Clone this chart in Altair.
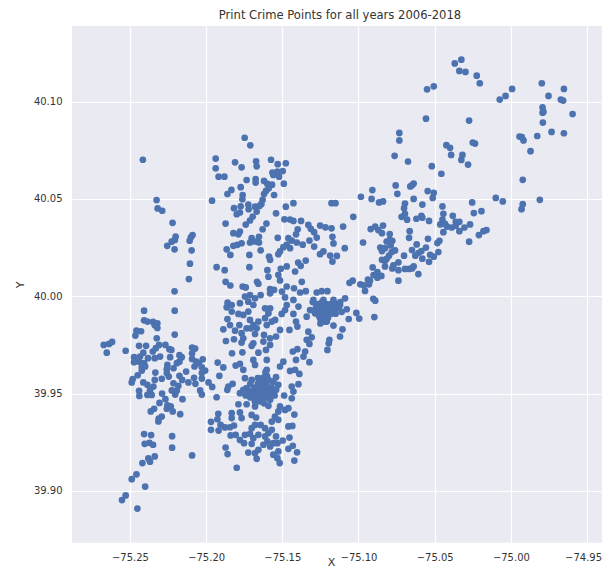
import altair as alt
import pandas as pd

# (longitude, latitude) pairs, grouped by area
southwest = [
(-75.2206,39.9926),(-75.2407,39.9926),(-75.2407,39.9876),(-75.2385,39.987),(-75.2348,39.9868),(-75.232,39.9861),(-75.2337,39.9851),(-75.232,39.9837),
(-75.2457,39.9823),(-75.2427,39.982),(-75.2464,39.9798),(-75.2206,39.9803),(-75.2324,39.9784),(-75.2617,39.9765),(-75.2637,39.9755),(-75.2672,39.975),
(-75.2652,39.971),(-75.2528,39.972),(-75.244,39.9745),(-75.2394,39.9745),(-75.2309,39.975),(-75.2267,39.975),(-75.233,39.9733),(-75.2241,39.9728),
(-75.235,39.9716),(-75.2228,39.9724),(-75.2412,39.971),(-75.2092,39.9736),(-75.2072,39.9731),(-75.2473,39.9687),(-75.2433,39.969),(-75.2381,39.9682),
(-75.2337,39.9682),(-75.2302,39.969),(-75.2236,39.9687),(-75.2175,39.9697),(-75.216,39.9687),(-75.2092,39.9707),(-75.2092,39.9678),(-75.2022,39.9676),
(-75.2473,39.9661),(-75.244,39.9664),(-75.2407,39.9656),(-75.2254,39.9647),(-75.2175,39.9664),(-75.2192,39.9656),(-75.2065,39.9664),(-75.2048,39.9656),
(-75.2422,39.9635),(-75.24,39.9639),(-75.2258,39.9625),(-75.2214,39.963),(-75.2076,39.9639),(-75.2028,39.9635),(-75.2006,39.9618),(-75.2028,39.9605),
(-75.2422,39.9618),(-75.2333,39.9608),(-75.2131,39.9613),(-75.2258,39.9605),(-75.2449,39.9594),(-75.2482,39.9574),(-75.2488,39.9557),(-75.2291,39.9576),
(-75.2337,39.957),(-75.2245,39.9587),(-75.2175,39.9591),(-75.2157,39.957),(-75.2079,39.9581),(-75.2116,39.9557),(-75.2028,39.9577),(-75.2412,39.9557),
(-75.2385,39.9545),(-75.2346,39.9536),(-75.2214,39.9553),(-75.2182,39.954),(-75.207,39.955),(-75.1984,39.9557),(-75.196,39.9534),(-75.244,39.9514),
(-75.2039,39.9516),(-75.2028,39.9495),(-75.2368,39.9516),(-75.2357,39.9493),(-75.2438,39.9488),(-75.2385,39.9493),(-75.2225,39.9516),(-75.2192,39.9516),
(-75.2203,39.9495),(-75.2289,39.95),(-75.2267,39.9471),(-75.2155,39.9471),(-75.2306,39.9452),(-75.2254,39.9439),(-75.2232,39.9434),(-75.2258,39.9422),
(-75.2219,39.9408),(-75.217,39.9394),(-75.2341,39.9422),(-75.2363,39.9408),(-75.2291,39.9382),(-75.2311,39.9372),(-75.2313,39.9357),(-75.2407,39.9292),
(-75.2361,39.9287),(-75.2223,39.9281),(-75.2403,39.9242),(-75.2372,39.9247),(-75.2348,39.9237),(-75.2223,39.9222),(-75.2092,39.9182),(-75.2337,39.9177),
(-75.2379,39.9167),(-75.2368,39.915),(-75.2418,39.9143),(-75.2457,39.9085),(-75.2488,39.906),(-75.24,39.9022),(-75.2528,39.8977),(-75.2552,39.8953),
(-75.2451,39.8909),
]

upper_left = [
(-75.2415,40.0701),(-75.2325,40.0494),(-75.2318,40.0451),(-75.2288,40.0439),(-75.222,40.0377),(-75.22,40.0306),(-75.2205,40.0289),(-75.2226,40.028),
(-75.2255,40.0259),(-75.2207,40.0241),(-75.2089,40.0314),(-75.21,40.0303),(-75.2108,40.0285),(-75.2095,40.0236),(-75.2106,40.0167),(-75.2113,40.0088),
(-75.2207,40.0025),
]

north_central = [
(-75.1747,40.0814),(-75.171,40.0775),(-75.1937,40.0707),(-75.181,40.0688),(-75.1937,40.0657),(-75.1767,40.0662),(-75.1672,40.0693),(-75.1668,40.0667),
(-75.1574,40.0701),(-75.153,40.0678),(-75.1477,40.0683),(-75.1918,40.0614),(-75.188,40.0614),(-75.1565,40.0635),(-75.1532,40.064),(-75.1497,40.0643),
(-75.1559,40.0623),(-75.1521,40.0614),(-75.1734,40.0597),(-75.1675,40.0602),(-75.1675,40.0584),(-75.162,40.0592),(-75.1598,40.0577),(-75.1567,40.0573),
(-75.149,40.0578),(-75.1773,40.056),(-75.1834,40.0546),(-75.186,40.0525),(-75.1589,40.0554),(-75.1607,40.0541),(-75.162,40.0525),(-75.1554,40.052),
(-75.176,40.052),(-75.1762,40.0498),(-75.1961,40.0491),(-75.1629,40.0495),(-75.1637,40.0474),(-75.1477,40.046),(-75.1427,40.0478),(-75.1177,40.0478),
(-75.1151,40.0478),(-75.1817,40.0452),(-75.1773,40.0462),(-75.1723,40.0471),(-75.1721,40.0447),(-75.1679,40.046),(-75.165,40.0464),(-75.1668,40.0435),
(-75.1799,40.0421),(-75.1778,40.043),(-75.1541,40.0426),(-75.1694,40.0409),(-75.1712,40.0389),(-75.174,40.0368),(-75.1872,40.0373),(-75.1486,40.0395),
(-75.1449,40.0394),(-75.1427,40.0387),(-75.1377,40.0387),(-75.1604,40.0373),(-75.1329,40.0366),(-75.1252,40.0363),(-75.1217,40.0354),(-75.1177,40.0349),
(-75.1101,40.0358),(-75.1629,40.0344),(-75.1399,40.0344),(-75.1313,40.0346),(-75.1821,40.0324),(-75.1778,40.0332),(-75.1788,40.0318),(-75.141,40.0318),
(-75.1291,40.0329),(-75.153,40.03),(-75.1171,40.0305),(-75.146,40.0298),(-75.1701,40.0298),(-75.1653,40.0305),(-75.1322,40.0286),(-75.1274,40.0301),
(-75.1712,40.0276),(-75.1679,40.0281),(-75.1653,40.0276),(-75.1767,40.0272),(-75.1795,40.0264),(-75.1821,40.0259),(-75.1438,40.0286),(-75.1405,40.0276),
(-75.1366,40.0265),(-75.1164,40.0271),(-75.1291,40.0255),(-75.1865,40.0241),(-75.1642,40.0236),(-75.1471,40.0264),(-75.1493,40.0252),(-75.1449,40.0247),
(-75.1515,40.023),(-75.1526,40.0216),(-75.123,40.023),(-75.1252,40.0216),(-75.109,40.0247),(-75.1841,40.0212),(-75.1716,40.0212),(-75.1587,40.0204),
(-75.158,40.0187),(-75.1186,40.0209),(-75.1142,40.0207),(-75.1171,40.0178),(-75.1396,40.0173),(-75.1346,40.0183),(-75.1379,40.0156),(-75.1931,40.0149),
(-75.1716,40.0149),(-75.1878,40.0134),(-75.1471,40.0153),(-75.151,40.0141),(-75.1598,40.0134),(-75.1416,40.0127),(-75.1591,40.01),(-75.1526,40.011),
(-75.1515,40.0081),(-75.1872,40.0074),(-75.1841,40.0055),(-75.1666,40.0074),(-75.1657,40.0064),(-75.1372,40.0074),(-75.1059,40.0069),(-75.176,40.005),
(-75.174,40.0045),(-75.158,40.0036),(-75.1554,40.0033),(-75.1471,40.005),(-75.1423,40.0041),(-75.1502,40.0024),(-75.1383,40.0019),(-75.1346,40.0026),
(-75.1274,40.0019),(-75.1241,40.0026),(-75.1204,40.0026),
]

south_central = [
(-75.1859,39.9967),(-75.1832,39.9955),(-75.1865,39.9943),(-75.1778,39.9964),(-75.1745,39.9998),(-75.1712,40.0006),(-75.1679,39.9989),(-75.1642,40.0006),
(-75.1723,39.9972),(-75.169,39.9955),(-75.158,40.0015),(-75.1482,39.9994),(-75.1427,39.9981),(-75.1394,39.9947),(-75.1471,39.9955),(-75.1296,39.9981),
(-75.123,39.9981),(-75.1164,39.9981),(-75.1088,39.9989),(-75.1121,39.9955),(-75.1077,39.9933),(-75.1142,39.9947),(-75.1186,39.9947),(-75.1263,39.9938),
(-75.1318,39.9929),(-75.134,39.9895),(-75.1285,39.9912),(-75.1241,39.9904),(-75.1208,39.987),(-75.1164,39.9849),(-75.1252,39.9887),(-75.1197,39.9921),
(-75.1064,39.9883),(-75.1105,39.983),(-75.1121,39.9793),(-75.1191,39.9776),(-75.1195,39.9758),(-75.1204,39.9724),(-75.1329,39.9818),(-75.1307,39.9789),
(-75.134,39.9776),(-75.1322,39.9755),(-75.135,39.9716),(-75.1361,39.969),(-75.1401,39.9728),(-75.1431,39.9716),(-75.141,39.9673),(-75.1322,39.9661),
(-75.1453,39.9827),(-75.141,39.987),(-75.1401,39.9844),(-75.1427,39.9909),(-75.1504,39.9909),(-75.1482,39.9929),(-75.158,39.9938),(-75.1613,39.9938),
(-75.1591,39.9912),(-75.1723,39.9921),(-75.1756,39.9904),(-75.1788,39.9909),(-75.1832,39.9921),(-75.1613,39.9887),(-75.1569,39.987),(-75.1547,39.9878),
(-75.1602,39.9852),(-75.1657,39.987),(-75.1712,39.9878),(-75.169,39.9852),(-75.1734,39.9835),(-75.1668,39.9835),(-75.1707,39.9835),(-75.186,39.9883),
(-75.1843,39.9852),(-75.1782,39.9852),(-75.181,39.9823),(-75.1887,39.983),(-75.1767,39.981),(-75.1756,39.9784),(-75.1767,39.9762),(-75.1817,39.9779),
(-75.187,39.977),(-75.1679,39.9806),(-75.162,39.9801),(-75.1515,39.9827),(-75.1541,39.9793),(-75.158,39.9784),(-75.1624,39.9767),(-75.169,39.9758),
(-75.1701,39.9745),(-75.158,39.975),(-75.1607,39.9724),(-75.1657,39.971),(-75.183,39.9707),(-75.1762,39.9712),(-75.1924,39.9659),(-75.1887,39.9634),
(-75.1806,39.9644),(-75.1778,39.9652),(-75.1756,39.9622),(-75.169,39.9673),(-75.1679,39.9647),(-75.1602,39.9673),(-75.1493,39.9664),(-75.1515,39.9639),
(-75.1449,39.9616),(-75.1416,39.9622),(-75.1388,39.9601),(-75.1913,39.9591),(-75.1854,39.9536),(-75.1826,39.955),(-75.1861,39.9519),(-75.1745,39.9579),
(-75.1602,39.9622),(-75.1613,39.9587),(-75.1541,39.9584),(-75.1438,39.9536),(-75.1394,39.9548),(-75.1427,39.951),(-75.1438,39.9476),(-75.1488,39.949),
(-75.1931,39.9481),(-75.1778,39.9502),(-75.1734,39.9528),(-75.169,39.9519),(-75.1646,39.9536),(-75.158,39.9519),(-75.1526,39.9545),(-75.1559,39.9562),
(-75.1701,39.957),(-75.1646,39.957),(-75.1602,39.957),(-75.1756,39.9519),(-75.169,39.9485),(-75.1646,39.9476),(-75.1602,39.9485),(-75.1613,39.9519),
(-75.1657,39.951),(-75.1712,39.9502),(-75.158,39.9468),(-75.1788,39.9445),(-75.1734,39.9445),(-75.1679,39.9434),(-75.1591,39.9437),(-75.1515,39.9434),
(-75.1482,39.9416),(-75.146,39.9425),(-75.1526,39.9408),(-75.1548,39.9382),(-75.1569,39.9356),(-75.1526,39.9365),(-75.1421,39.9392),(-75.1701,39.939),
(-75.1672,39.9377),(-75.1778,39.9403),(-75.1832,39.9399),(-75.1767,39.9374),(-75.1832,39.9374),(-75.192,39.9396),(-75.1926,39.9368),(-75.1968,39.9355),
(-75.1905,39.9339),(-75.1876,39.9326),(-75.1843,39.9327),(-75.1817,39.9336),(-75.1968,39.9314),(-75.1918,39.931),(-75.1839,39.9285),(-75.1806,39.9288),
(-75.1778,39.9262),(-75.1751,39.9245),(-75.1745,39.9288),(-75.1701,39.9322),(-75.1679,39.9339),(-75.1642,39.9339),(-75.1712,39.9293),(-75.1657,39.9288),
(-75.169,39.9271),(-75.1701,39.9242),(-75.1613,39.9322),(-75.1591,39.9297),(-75.1569,39.9314),(-75.1613,39.928),(-75.1598,39.9254),(-75.1624,39.9237),
(-75.1541,39.928),(-75.1497,39.9259),(-75.1559,39.9245),(-75.1532,39.9245),(-75.146,39.9331),(-75.1434,39.9334),(-75.1453,39.9274),(-75.158,39.9228),
(-75.1526,39.9203),(-75.1559,39.9186),(-75.1532,39.9168),(-75.1517,39.9143),(-75.146,39.9216),(-75.1431,39.9232),(-75.1403,39.9198),(-75.1421,39.9156),
(-75.1872,39.9223),(-75.1859,39.9189),(-75.1723,39.9197),(-75.1657,39.9211),(-75.1679,39.9194),(-75.1668,39.9165),(-75.1799,39.9119),
]

northeast = [
(-75.0368,40.1196),(-75.0325,40.1215),(-75.0338,40.1157),(-75.0298,40.1152),(-75.0224,40.1133),(-75.0204,40.1094),(-75.055,40.1063),(-75.0506,40.1078),
(-75.0073,40.101),(-75.0035,40.1029),(-74.9992,40.1065),(-74.9797,40.1094),(-74.9652,40.1065),(-74.9753,40.1029),(-74.9672,40.101),(-74.9657,40.1005),
(-74.9595,40.0936),(-74.9792,40.097),(-74.9792,40.0943),(-74.9786,40.0947),(-74.979,40.0892),(-75.0557,40.0912),(-75.0274,40.0902),(-75.0732,40.0839),
(-75.0732,40.08),(-75.0763,40.0721),(-75.0675,40.0692),(-74.9943,40.082),(-74.9928,40.0817),(-74.9917,40.08),(-74.9827,40.0823),(-74.9733,40.0844),
(-74.9652,40.0837),(-74.9871,40.0745),(-75.0423,40.0776),(-75.0399,40.0762),(-75.0392,40.0726),(-75.0318,40.0726),(-75.0325,40.07),(-75.0281,40.0676),
(-75.025,40.0789),(-75.0235,40.0784),(-75.0519,40.0668),(-75.0456,40.0629),(-74.9922,40.0598),(-75.0756,40.0569),(-75.0745,40.0526),(-75.066,40.0564),
(-75.0649,40.057),(-75.0638,40.0579),(-75.0909,40.0545),(-75.0984,40.0511),(-75.0914,40.05),(-75.0865,40.0482),(-75.0839,40.0487),(-75.0638,40.05),
(-75.0546,40.054),(-75.0506,40.0531),(-75.0513,40.0505),(-75.0099,40.0505),(-75.0053,40.0487),(-74.981,40.0495),(-75.0254,40.0482),(-74.9922,40.0473),
(-74.993,40.0447),(-75.0581,40.0471),(-75.0449,40.0461),(-75.0695,40.0476),(-75.0701,40.0452),(-75.1034,40.0408),(-75.0717,40.0408),(-75.0695,40.0423),
(-75.0681,40.0393),(-75.062,40.0398),(-75.0587,40.0413),(-75.0581,40.0403),(-75.0537,40.0387),(-75.0449,40.0393),(-75.0443,40.0423),(-75.0381,40.0413),
(-75.0243,40.0427),(-75.0193,40.0437),(-75.0463,40.0369),(-75.0432,40.0372),(-75.0419,40.0358),(-75.0388,40.0353),(-75.0362,40.0362),(-75.0362,40.0382),
(-75.0338,40.0382),(-75.0338,40.0334),(-75.0305,40.0353),(-75.0268,40.0369),(-75.0443,40.0329),(-75.021,40.0314),(-75.018,40.0334),(-75.016,40.034),
(-75.092,40.0345),(-75.089,40.0358),(-75.0839,40.0363),(-75.087,40.034),(-75.0846,40.0324),(-75.0664,40.0334),(-75.0668,40.03),(-75.0544,40.0295),
(-75.0795,40.0319),(-75.097,40.0276),(-75.0815,40.0281),(-75.0795,40.029),(-75.0778,40.0285),(-75.0789,40.0261),(-75.0482,40.0273),(-75.0469,40.0285),
(-75.0618,40.0266),(-75.0274,40.028),(-75.0857,40.025),(-75.0826,40.0247),(-75.0846,40.0232),(-75.0557,40.025),(-75.0649,40.0237),(-75.0587,40.0232),
(-75.0607,40.0222),(-75.0627,40.0208),(-75.076,40.0235),(-75.0782,40.0227),(-75.08,40.0208),(-75.0476,40.0227),(-75.0701,40.0208),(-75.053,40.0213),
(-75.0506,40.0203),(-75.0581,40.0193),(-75.0537,40.0177),(-75.0846,40.0187),(-75.0826,40.0182),(-75.0815,40.0192),(-75.0826,40.0153),(-75.0738,40.0174),
(-75.0771,40.0158),(-75.0778,40.0143),(-75.0738,40.0134),(-75.0695,40.014),(-75.0668,40.014),(-75.0649,40.0143),(-75.0638,40.0153),(-75.0607,40.0114),
(-75.0738,40.008),(-75.0907,40.0148),(-75.0876,40.0124),(-75.0901,40.0109),(-75.085,40.0104),(-75.0876,40.0095),(-75.0938,40.0085),(-75.0925,40.008),
(-75.1038,40.008),(-75.0988,40.0061),(-75.0964,40.0056),(-75.0931,40.0061),(-75.0957,40.0027),(-75.0903,39.9987),(-75.089,39.9977),(-75.1014,39.9914),
(-75.0995,39.9885),(-75.0896,39.9893),
]

# estimates inside the two solid clusters, where single points cannot be told apart
dense_south = [
(-75.171,39.955),(-75.168,39.953),(-75.166,39.955),(-75.163,39.955),(-75.160,39.954),(-75.157,39.953),(-75.154,39.952),(-75.172,39.951),
(-75.169,39.950),(-75.166,39.952),(-75.163,39.951),(-75.160,39.951),(-75.157,39.950),(-75.155,39.949),(-75.174,39.949),(-75.171,39.948),
(-75.167,39.949),(-75.164,39.949),(-75.161,39.948),(-75.158,39.948),(-75.168,39.946),(-75.165,39.946),(-75.162,39.945),(-75.166,39.958),
(-75.163,39.958),(-75.160,39.959),(-75.161,39.961),(-75.159,39.957),(-75.156,39.956),
]
dense_east = [
(-75.130,39.997),(-75.127,39.996),(-75.124,39.997),(-75.121,39.996),(-75.118,39.996),(-75.115,39.996),(-75.112,39.997),(-75.128,39.994),
(-75.125,39.994),(-75.122,39.994),(-75.119,39.993),(-75.116,39.993),(-75.113,39.994),(-75.111,39.992),(-75.127,39.992),(-75.124,39.992),
(-75.121,39.991),(-75.118,39.991),(-75.115,39.991),(-75.126,39.990),(-75.123,39.989),(-75.120,39.989),(-75.122,39.987),(-75.125,39.986),
]

x_ticks = [-75.25, -75.20, -75.15, -75.10, -75.05, -75.00, -74.95]
y_ticks = [39.90, 39.95, 40.00, 40.05, 40.10]
x_domain = [-75.288, -74.9402]
y_domain = [39.8734, 40.1388]

points = southwest + upper_left + north_central + south_central + northeast + dense_south + dense_east
df = pd.DataFrame(points, columns=["X", "Y"])

FONT = "DejaVu Sans"
chart = (
    alt.Chart(df)
    .mark_circle(color="#4c72b0", opacity=1, size=45)
    .encode(
        x=alt.X("X:Q", scale=alt.Scale(domain=x_domain, nice=False, zero=False),
                axis=alt.Axis(values=x_ticks, format=".2f", title="X", labelPadding=9.5,
                              labelOffset=alt.expr("datum.value > -74.96 ? -4 : 0"),
                              titleX=259, titleY=23, titleBaseline="alphabetic", titleAlign="center")),
        y=alt.Y("Y:Q", scale=alt.Scale(domain=y_domain, nice=False, zero=False),
                axis=alt.Axis(values=y_ticks, format=".2f", title="Y", labelPadding=10, titlePadding=8)),
    )
    .properties(
        width=530,
        height=516.7,
        autosize=alt.AutoSizeParams(type="none"),
        padding={"left": 64, "top": 18, "right": 0, "bottom": 26},
        title=alt.TitleParams("Print Crime Points for all years 2006-2018", font=FONT, fontSize=11.6,
                              fontWeight="normal", color="#333333", offset=4, dx=3),
    )
    .configure_view(fill="#eaeaf2", stroke=None)
    .configure_axis(
        grid=True, gridColor="white", gridWidth=1.2, gridOpacity=1,
        domain=False, ticks=False,
        labelFont=FONT, labelFontSize=10, labelColor="#333333",
        titleFont=FONT, titleFontSize=11, titleColor="#333333", titleFontWeight="normal",
    )
)
chart.save("out.html", embed_options={"renderer": "svg", "actions": False})
